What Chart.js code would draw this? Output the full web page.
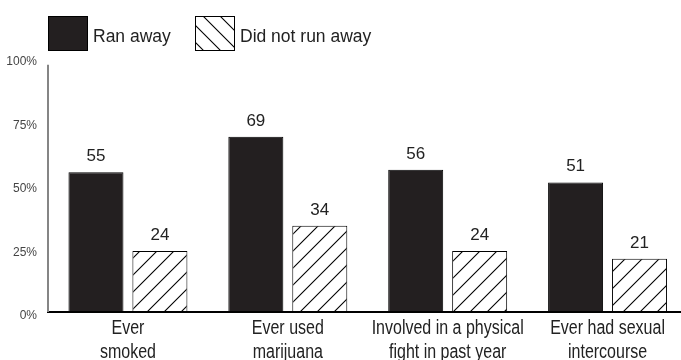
<!DOCTYPE html>
<html><head><meta charset="utf-8">
<script src="https://cdn.jsdelivr.net/npm/chart.js@4/dist/chart.umd.min.js"></script>
<style>
html,body{margin:0;padding:0;background:#fff;overflow:hidden;width:681px;height:360px}
#wrap{width:690px;height:360px;position:relative}
</style></head><body>
<div id="wrap"><canvas id="c" width="690" height="360"></canvas></div>
<script>
const categories = [['Ever','smoked'],['Ever used','marijuana'],['Involved in a physical','fight in past year'],['Ever had sexual','intercourse']];
const seriesNames = ['Ran away','Did not run away'];
const ranAway = [55,69,56,51];
const didNotRunAway = [24,34,24,21];
const yTicks = [0,25,50,75,100];

function hatch(dir, s){
  const c=document.createElement('canvas'); c.width=s; c.height=s;
  const g=c.getContext('2d');
  g.fillStyle='#fff'; g.fillRect(0,0,s,s);
  g.strokeStyle='#000'; g.lineWidth=1.1; g.beginPath();
  if(dir>0){
    g.moveTo(0,s); g.lineTo(s,0);
    g.moveTo(-2,2); g.lineTo(2,-2);
    g.moveTo(s-2,s+2); g.lineTo(s+2,s-2);
  } else {
    g.moveTo(0,0); g.lineTo(s,s);
    g.moveTo(-2,s-2); g.lineTo(2,s+2);
    g.moveTo(s-2,-2); g.lineTo(s+2,2);
  }
  g.stroke();
  return g.createPattern(c,'repeat');
}
const ctx=document.getElementById('c').getContext('2d');
const hatchFwd=hatch(1,17), hatchBack=hatch(-1,17);
const DARK='#231f20';

const valueLabels={id:'valueLabels',afterDatasetsDraw(chart){
  const c=chart.ctx; c.save();
  c.font='17px "Liberation Sans", Arial, sans-serif'; c.fillStyle='#222';
  c.textAlign='center'; c.textBaseline='alphabetic';
  chart.data.datasets.forEach((ds,i)=>{
    chart.getDatasetMeta(i).data.forEach((el,j)=>{
      c.fillText(String(ds.data[j]), el.x, el.y-11);
    });
  });
  c.restore();
}};
const yLine={id:'yLine',afterDraw(chart){
  const y=chart.scales.y, a=chart.chartArea, c=chart.ctx;
  c.save(); c.strokeStyle='#858585'; c.lineWidth=2;
  c.beginPath(); c.moveTo(a.left, y.getPixelForValue(97.3)); c.lineTo(a.left, a.bottom); c.stroke();
  c.restore();
}};
const xLabels={id:'xLabels',afterDraw(chart){
  const s=chart.scales.x, c=chart.ctx; c.save();
  c.font='20px "Liberation Sans", Arial, sans-serif'; c.fillStyle='#222';
  c.textAlign='center'; c.textBaseline='middle';
  chart.data.labels.forEach((lab,i)=>{
    const x=s.getPixelForTick(i);
    lab.forEach((line,k)=>{
      c.save(); c.translate(x, s.top+16+24*k); c.scale(0.8,1);
      c.fillText(line,0,0); c.restore();
    });
  });
  c.restore();
}};
const legendBoxes={id:'legendBoxes',afterDraw(chart){
  const c=chart.ctx; c.save();
  const items=[{x:48,fill:DARK,tx:93},{x:195,fill:hatchBack,tx:240}];
  items.forEach((it,i)=>{
    c.fillStyle=it.fill; c.fillRect(it.x,16,40,35);
    c.strokeStyle='#000'; c.lineWidth=1; c.strokeRect(it.x+0.5,16.5,39,34);
    c.font='17.5px "Liberation Sans", Arial, sans-serif'; c.fillStyle='#222';
    c.textAlign='left'; c.textBaseline='middle';
    c.fillText(seriesNames[i], it.tx, 37);
  });
  c.restore();
}};

new Chart(ctx,{
  type:'bar',
  data:{labels:categories,datasets:[
    {label:seriesNames[0],data:ranAway,backgroundColor:DARK,borderColor:'#000',borderWidth:1,borderSkipped:false},
    {label:seriesNames[1],data:didNotRunAway,backgroundColor:hatchFwd,borderColor:'#000',borderWidth:1,borderSkipped:false}
  ]},
  options:{
    responsive:false,animation:false,
    categoryPercentage:0.8,barPercentage:0.86,
    layout:{padding:{top:58,right:2.5,left:0,bottom:0}},
    plugins:{legend:{display:false},tooltip:{enabled:false}},
    scales:{
      x:{grid:{display:false,drawTicks:false},
         border:{display:true,color:'#000',width:2},
         ticks:{display:false},
         afterFit(s){s.height=48;}},
      y:{min:0,max:100,
         afterBuildTicks(s){s.ticks=yTicks.map(v=>({value:v}));},
         grid:{display:false,drawTicks:false},
         border:{display:false},
         ticks:{color:'#444',padding:11,labelOffset:4,callback:v=>v+'%',
           font:{family:'"Liberation Sans", Arial, sans-serif',size:12}},
         afterFit(s){s.width=48;}}
    }
  },
  plugins:[valueLabels,yLine,xLabels,legendBoxes]
});
</script>
</body></html>
